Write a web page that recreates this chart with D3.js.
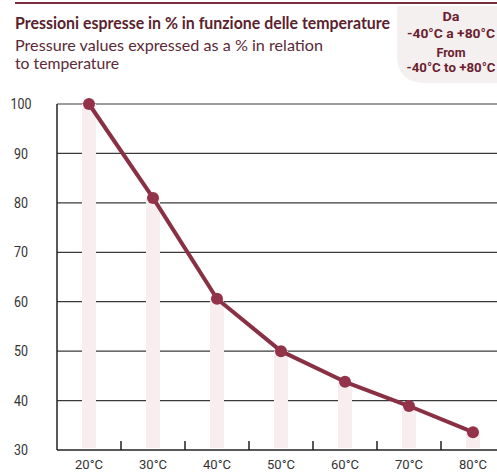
<!DOCTYPE html>
<html><head><meta charset="utf-8">
<script src="https://cdn.jsdelivr.net/npm/d3@7/dist/d3.min.js"></script>
<style>body{margin:0;background:#fff}svg{display:block}</style>
</head><body>
<script>
const categories = ["20°C","30°C","40°C","50°C","60°C","70°C","80°C"];
const values = [100, 81, 60.6, 50, 43.8, 38.9, 33.6];
const yTicks = [30,40,50,60,70,80,90,100];
const titleIt = "Pressioni espresse in % in funzione delle temperature";
const titleEn = ["Pressure values expressed as a % in relation","to temperature"];
const rangeBox = ["Da","-40°C a +80°C","From","-40°C to +80°C"];

(function(){
const W = 497, H = 472;
const svg = d3.select("body").append("svg").attr("width", W).attr("height", H);

const left = 57, bandW = 64, plotTop = 104, plotBottom = 450;
const x = d3.scaleBand().domain(categories).range([left, left + bandW*categories.length]).padding(0);
const y = d3.scaleLinear().domain([30,100]).range([plotBottom, plotTop]);

// header
svg.append("line").attr("x1",15).attr("x2",W).attr("y1",3).attr("y2",3)
  .attr("stroke","#7a2e40").attr("stroke-width",2);
svg.append("path")
  .attr("d", `M397,6 H${W} V83 H425 Q397,83 397,55 Z`)
  .attr("fill","#f5f0f0");
svg.append("text").attr("x",15).attr("y",29).text(titleIt)
  .attr("font-family","Lato, 'Open Sans', sans-serif").attr("font-weight","bold")
  .attr("font-size",17.5).attr("fill","#5b1f2e")
  .attr("textLength",375).attr("lengthAdjust","spacingAndGlyphs");
svg.append("text").attr("x",15).attr("y",51).text(titleEn[0])
  .attr("font-family","Lato, 'Open Sans', sans-serif").attr("font-weight",400)
  .attr("font-size",16).attr("fill","#5b2a36")
  .attr("textLength",308).attr("lengthAdjust","spacingAndGlyphs");
svg.append("text").attr("x",15).attr("y",69).text(titleEn[1])
  .attr("font-family","Lato, 'Open Sans', sans-serif").attr("font-weight",400)
  .attr("font-size",16).attr("fill","#5b2a36")
  .attr("textLength",104).attr("lengthAdjust","spacingAndGlyphs");
const boxY = [21, 38, 56.5, 72];
const boxLen = [17, 88, 29, 89];
rangeBox.forEach((t,i)=>{
  svg.append("text").attr("x",451).attr("y",boxY[i]).text(t)
    .attr("text-anchor","middle")
    .attr("font-family","Roboto, sans-serif").attr("font-weight","bold")
    .attr("font-size",13).attr("fill","#6b1e30")
    .attr("textLength",boxLen[i]).attr("lengthAdjust","spacingAndGlyphs");
});

// gridlines
svg.append("g").selectAll("line").data(yTicks.filter(d=>d>30)).join("line")
  .attr("x1",left).attr("x2",W).attr("y1",d=>y(d)).attr("y2",d=>y(d))
  .attr("stroke","#3a3a3a").attr("stroke-width",1.2);

// columns
svg.append("g").selectAll("rect").data(values).join("rect")
  .attr("x",(d,i)=>x(categories[i]) + x.bandwidth()/2 - 7)
  .attr("width",14)
  .attr("y",d=>y(d))
  .attr("height",d=>plotBottom - 2 - y(d))
  .attr("fill","#f8eef0");

// axes
svg.append("line").attr("x1",left).attr("x2",left).attr("y1",plotTop).attr("y2",plotBottom)
  .attr("stroke","#222").attr("stroke-width",1.5);
svg.append("line").attr("x1",left).attr("x2",W).attr("y1",plotBottom).attr("y2",plotBottom)
  .attr("stroke","#222").attr("stroke-width",1.5);
svg.append("g").selectAll("line").data(categories.slice(1)).join("line")
  .attr("x1",d=>x(d)).attr("x2",d=>x(d)).attr("y1",plotBottom).attr("y2",plotBottom-9)
  .attr("stroke","#222").attr("stroke-width",1.5);

// y labels
svg.append("g").selectAll("text").data(yTicks).join("text")
  .attr("x",21).attr("y",d=>y(d)).attr("dy","0.35em")
  .attr("text-anchor","middle")
  .attr("font-family","Roboto, sans-serif")
  .attr("font-size",14.5).attr("fill","#333").text(d=>d)
  .attr("textLength",d=>d===100?21:14).attr("lengthAdjust","spacingAndGlyphs");

// x labels
svg.append("g").selectAll("text").data(categories).join("text")
  .attr("x",d=>x(d)+x.bandwidth()/2).attr("y",469)
  .attr("text-anchor","middle")
  .attr("font-family","Roboto, sans-serif")
  .attr("font-size",13.5).attr("fill","#333").text(d=>d)
  .attr("textLength",28).attr("lengthAdjust","spacingAndGlyphs");

// line
const line = d3.line().x((d,i)=>x(categories[i])+x.bandwidth()/2).y(d=>y(d));
svg.append("path").datum(values).attr("d",line)
  .attr("fill","none").attr("stroke","#8a3044").attr("stroke-width",4).attr("stroke-linejoin","round");
svg.append("g").selectAll("circle").data(values).join("circle")
  .attr("cx",(d,i)=>x(categories[i])+x.bandwidth()/2).attr("cy",d=>y(d)).attr("r",6)
  .attr("fill","#93334a");
})();
</script>
</body></html>
